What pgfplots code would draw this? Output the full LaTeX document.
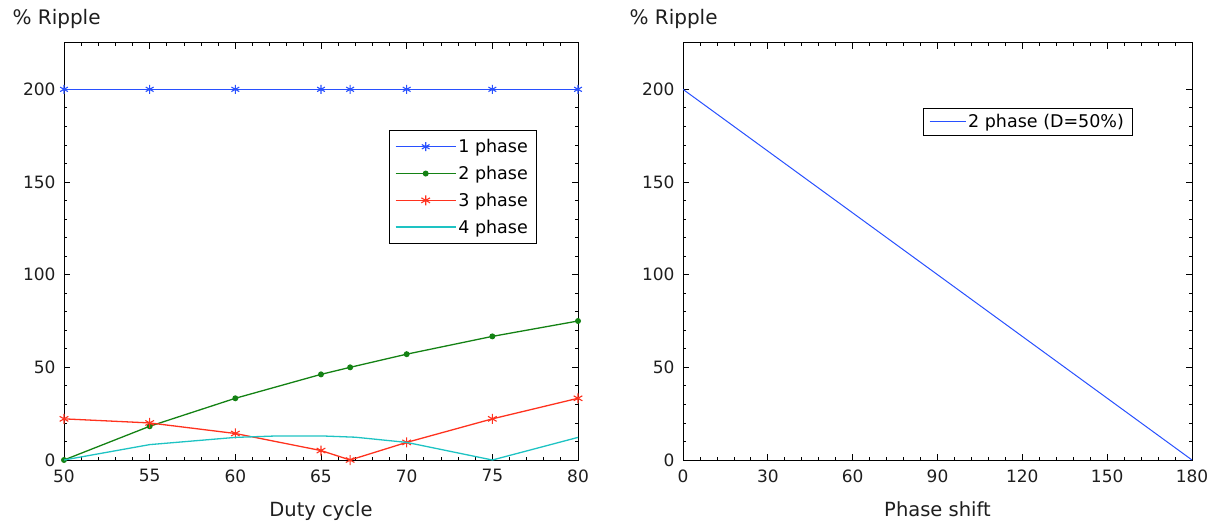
\documentclass[border=0pt]{standalone}
\usepackage{fontspec}
\setmainfont{DejaVu Sans}
\usepackage{pgfplots}
\pgfplotsset{compat=1.18}

\definecolor{cOne}{RGB}{40,80,255}
\definecolor{cTwo}{RGB}{20,130,20}
\definecolor{cThree}{RGB}{255,50,30}
\definecolor{cFour}{RGB}{30,195,195}
\definecolor{txt}{RGB}{30,30,30}

\pgfplotsset{
  ripplebase/.style={
    scale only axis,
    clip mode=individual,
    width=514pt, height=417pt,
    ymin=0, ymax=225,
    ytick={0,50,100,150,200},
    minor y tick num=4,
    tick align=inside,
    major tick length=6pt,
    minor tick length=3pt,
    axis line style={line width=1pt, black},
    tick style={black, line width=0.8pt},
    every tick label/.append style={font=\fontsize{17}{19}\selectfont, text=txt},
    xticklabel style={yshift=-6pt},
    yticklabel style={xshift=-5pt},
    /pgf/number format/assume math mode=true,
    xlabel style={font=\fontsize{19.5}{21}\selectfont, text=txt},
    legend cell align=left,
    legend style={font=\fontsize{17.5}{19}\selectfont, draw=black,
      row sep=8pt, inner xsep=6pt, inner ysep=7pt},
    legend image code/.code={
      \draw[mark repeat=2,mark phase=2,#1]
        plot coordinates {(0pt,0pt) (30pt,0pt) (60pt,0pt)};},
  }
}

\begin{document}
\begin{tikzpicture}
\useasboundingbox (0pt,0pt) rectangle (1217pt,522pt);

% Ripple vs duty cycle for 1 to 4 interleaved phases
\begin{axis}[ripplebase,
  at={(64pt,62pt)}, anchor=south west,
  xmin=50, xmax=80,
  xtick={50,55,60,65,70,75,80},
  minor x tick num=4,
  xlabel={Duty cycle},
  xlabel style={at={(rel axis cs:0.5,0)}, anchor=base, yshift=-56pt},
  legend style={at={(rel axis cs:0.632,0.791)}, anchor=north west},
]
\addplot[color=cOne, line width=1.3pt, mark=asterisk, mark size=4.5pt, mark options={line width=1.1pt}]
  coordinates {(50,200) (55,200) (60,200) (65,200) (66.7,200) (70,200) (75,200) (80,200)};
\addlegendentry{1 phase}
\addplot[color=cTwo, line width=1.3pt, mark=*, mark size=2.3pt]
  coordinates {(50,0) (55,18.2) (60,33.3) (65,46.2) (66.7,50.0) (70,57.1) (75,66.7) (80,75.0)};
\addlegendentry{2 phase}
\addplot[color=cThree, line width=1.3pt, mark=asterisk, mark size=5pt, mark options={line width=1.1pt}]
  coordinates {(50,22.2) (55,20.0) (60,14.3) (65,5.1) (66.7,0) (70,9.5) (75,22.2) (80,33.3)};
\addlegendentry{3 phase}
\addplot[color=cFour, line width=1.3pt, mark=none]
  coordinates {(50,0) (55,8.3) (60,12.2) (62.5,13.0) (65,13.0) (67,12.3) (70,9.5) (75,0) (80,12.2)};
\addlegendentry{4 phase}
\node[anchor=base west, font=\fontsize{20}{22}\selectfont, text=txt]
  at (rel axis cs:0,1) [xshift=-55pt, yshift=18pt] {\% Ripple};
\end{axis}

% Ripple vs phase shift for two phases at 50% duty
\begin{axis}[ripplebase,
  at={(683pt,62pt)}, anchor=south west,
  width=509pt,
  xmin=0, xmax=180,
  xtick={0,30,60,90,120,150,180},
  minor x tick num=4,
  xlabel={Phase shift},
  xlabel style={at={(rel axis cs:0.5,0)}, anchor=base, yshift=-56pt},
  legend style={at={(rel axis cs:0.4715,0.844)}, anchor=north west, inner ysep=4pt, inner xsep=6pt},
  legend image code/.code={
    \draw[#1] (0pt,0pt) -- (36pt,0pt);},
]
\addplot[color=cOne, line width=1pt] coordinates {(0,200) (180,0)};
\addlegendentry{2 phase (D=50\%)}
\node[anchor=base west, font=\fontsize{20}{22}\selectfont, text=txt]
  at (rel axis cs:0,1) [xshift=-57pt, yshift=18pt] {\% Ripple};
\end{axis}
\end{tikzpicture}
\end{document}
